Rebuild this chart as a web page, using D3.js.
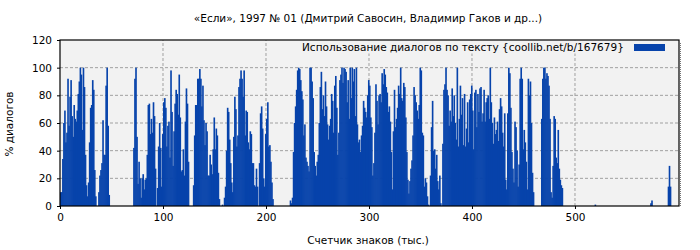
<!DOCTYPE html>
<html lang="ru">
<head>
<meta charset="UTF-8">
<title>«Если», 1997 № 01</title>
<style>
  body { margin: 0; background: #fff; }
  svg text { font-family: "DejaVu Sans", sans-serif; font-size: 10.5px; fill: #000; }
  .grid line { stroke: #a0a0a0; stroke-dasharray: 3,2; }
  .bar { fill: #0743ab; }
  .axis path { display: none; }
  .axis line { stroke: #000; }
</style>
</head>
<body>
<svg></svg>
<script src="https://d3js.org/d3.v7.min.js"></script>
<script>

// % of dialogue per thousand characters of text (index = thousand chars)
const usage = [
  // 0 - 52
  10,10,34,60,69,46,53,92,58,79,91,65,50,73,63,61,69,81,90,100,95,55,100,86,37,15,7,17,46,71,73,91,84,26,7,0,0,10,22,26,31,62,37,37,87,100,58,8,0,0,0,0,0,
  // 53 - 108
  0,0,0,0,0,0,0,0,0,0,0,0,0,0,0,0,0,0,
  42,92,100,50,16,32,20,6,20,23,12,19,20,37,73,74,52,63,53,75,65,27,0,13,43,60,42,14,52,75,78,71,43,58,61,35,98,68,
  // 109 - 163
  29,54,74,84,81,66,95,64,25,26,41,22,61,85,74,32,0,0,0,0,
  15,51,73,73,92,92,99,92,72,87,62,44,60,54,22,22,37,30,23,41,64,41,56,51,24,5,0,0,1,0,6,14,40,71,68,
  // 164 - 219
  48,31,17,10,50,79,70,43,51,86,92,98,92,79,98,51,69,68,46,41,54,52,31,31,15,14,27,14,0,31,67,72,56,20,14,52,63,75,43,44,32,17,5,
  0,0,0,0,0,0,0,0,0,0,0,0,0,
  // 220 - 274
  0,0,0,4,2,6,39,60,72,84,98,100,99,91,83,77,51,59,35,32,29,25,100,100,90,78,39,29,22,32,37,60,86,97,70,80,65,90,72,59,48,58,63,81,76,53,87,94,71,37,53,91,95,100,89,
  // 275 - 329
  100,99,97,75,91,63,100,78,100,90,99,65,100,59,46,48,39,51,58,76,71,68,64,80,91,87,64,57,22,31,53,88,76,59,80,81,75,96,88,99,95,86,82,68,72,61,39,12,54,84,57,63,71,87,81,
  // 330 - 385
  100,78,76,89,86,64,39,19,9,18,27,33,51,86,80,75,69,63,73,100,98,53,51,14,20,17,7,1,0,22,57,76,40,41,27,37,18,12,22,2,0,45,84,88,100,84,80,58,69,61,85,65,80,60,48,100,
  // 386 - 440
  43,63,87,66,78,44,81,43,56,75,46,77,81,87,69,41,82,84,57,81,68,85,86,61,67,84,61,75,78,80,63,100,75,60,45,64,52,55,61,47,70,78,72,53,43,67,19,12,67,100,96,71,39,27,17,
  // 441 - 495
  61,57,40,14,30,92,100,92,41,55,46,32,12,92,80,90,60,24,10,0,0,0,0,0,0,0,
  63,92,100,100,92,96,94,87,63,10,6,29,65,63,35,31,55,27,19,15,13,0,0,0,0,0,0,0,0,
  // 496 - 551
  0,0,0,0,0,0,0,0,0,0,0,0,0,0,0,0,0,0,0,0,0,0,0,1,0,0,0,0,0,0,0,0,0,0,0,0,0,0,0,0,0,0,0,0,0,0,0,0,0,0,0,0,0,0,0,0,
  // 552 - 592
  0,0,0,0,0,0,0,0,0,0,0,0,0,0,0,0,0,0,0,0,0,2,4,0,0,0,0,0,0,0,0,0,0,0,0,0,0,0,14,29,14
];

const xTicks = [0, 100, 200, 300, 400, 500];
const yTicks = [0, 20, 40, 60, 80, 100, 120];
const xGrid = [100, 200, 300, 400, 500];
const yGrid = [20, 40, 60, 80, 100];

const title = '«Если», 1997 № 01 (Дмитрий Савосин, Владимир Гаков и др...)';
const legendLabel = 'Использование диалогов по тексту {coollib.net/b/167679}';

const width = 700, height = 250;
const margin = { top: 40, right: 21, bottom: 44, left: 60 };

const svg = d3.select('svg').attr('width', width).attr('height', height);

const x = d3.scaleLinear().domain([0, 601]).range([margin.left, width - margin.right]);
const y = d3.scaleLinear().domain([0, 120]).range([height - margin.bottom, margin.top]);

// plot background
svg.append('rect')
    .attr('x', x(0)).attr('y', y(120))
    .attr('width', x(601) - x(0)).attr('height', y(0) - y(120))
    .attr('fill', '#f2f2f2');

// grid
const grid = svg.append('g').attr('class', 'grid');
grid.selectAll('.gy').data(yGrid).enter().append('line')
    .attr('x1', x(0)).attr('x2', x(601))
    .attr('y1', d => y(d)).attr('y2', d => y(d));
grid.selectAll('.gx').data(xGrid).enter().append('line')
    .attr('x1', d => x(d)).attr('x2', d => x(d))
    .attr('y1', y(0)).attr('y2', y(120));

// bars (slight overlap so neighbours don't leave seams)
svg.append('g').selectAll('.bar')
    .data(usage)
    .enter().append('rect')
        .attr('class', 'bar')
        .attr('x', (d, i) => x(i))
        .attr('y', d => y(d))
        .attr('width', x(1) - x(0) + 0.6)
        .attr('height', d => y(0) - y(d));

// legend
svg.append('rect')
    .attr('x', 296).attr('y', y(120) + 0.5)
    .attr('width', x(601) - 296).attr('height', 13)
    .attr('fill', '#f2f2f2');
svg.append('text')
    .attr('x', 302).attr('y', 51)
    .text(legendLabel);
svg.append('rect')
    .attr('x', 634).attr('y', 44)
    .attr('width', 31).attr('height', 7)
    .attr('class', 'bar');

// axes
svg.append('g')
    .attr('class', 'axis')
    .attr('transform', `translate(0, ${y(0)})`)
    .call(d3.axisBottom(x).tickValues(xTicks).tickSize(3).tickPadding(5));

svg.append('g')
    .attr('class', 'axis')
    .attr('transform', `translate(${x(0)}, 0)`)
    .call(d3.axisLeft(y).tickValues(yTicks).tickSize(3).tickPadding(5));

svg.selectAll('.axis text').attr('font-family', null).attr('font-size', null);

// frame
svg.append('rect')
    .attr('x', x(0)).attr('y', y(120))
    .attr('width', x(601) - x(0)).attr('height', y(0) - y(120))
    .attr('fill', 'none').attr('stroke', '#000').attr('stroke-width', 1.2);
svg.append('line')
    .attr('x1', x(601) + 1.5).attr('x2', x(601) + 1.5)
    .attr('y1', y(120) + 3).attr('y2', y(0))
    .attr('stroke', '#777').attr('stroke-dasharray', '1,1');

// titles
svg.append('text')
    .attr('x', 368).attr('y', 22)
    .attr('text-anchor', 'middle')
    .text(title);

svg.append('text')
    .attr('x', 368).attr('y', 244)
    .attr('text-anchor', 'middle')
    .text('Счетчик знаков (тыс.)');

svg.append('text')
    .attr('transform', 'rotate(-90)')
    .attr('x', -124).attr('y', 13)
    .attr('text-anchor', 'middle')
    .text('% диалогов');

</script>
</body>
</html>
